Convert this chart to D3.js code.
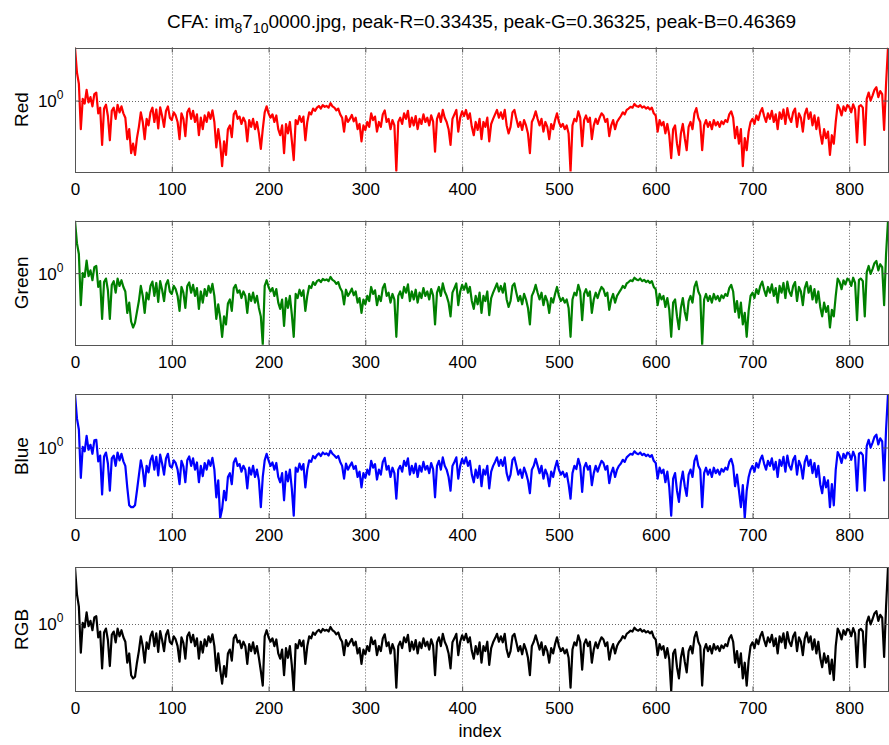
<!DOCTYPE html>
<html>
<head>
<meta charset="utf-8">
<script src="https://cdn.jsdelivr.net/npm/d3@7"></script>
<style>
  body { margin: 0; background: #fff; }
  svg { display: block; font-family: "Liberation Sans", Arial, Helvetica, sans-serif; }
</style>
</head>
<body>
<svg id="chart" width="889" height="745"></svg>
<script>
// Sample spacing along the index axis (one value every 2 indices, 0..840)
const indexStep = 2;

// Spectrum magnitude per channel; each row holds 20 samples (40 indices)
const red = [
  4.4,2.2,1.6,0.45,1.05,0.92,1.35,0.95,1.1,0.85,1.2,1.25,0.7,0.82,0.29,0.8,0.89,0.65,0.33,0.75,
  0.82,0.6,0.89,0.72,0.85,0.7,0.62,0.34,0.45,0.23,0.3,0.22,0.35,0.48,0.72,0.55,0.34,0.6,0.5,0.72,
  0.82,0.55,0.78,0.46,0.83,0.65,0.48,0.75,0.85,0.62,0.58,0.72,0.66,0.55,0.34,0.7,0.6,0.37,0.72,0.8,
  0.6,0.75,0.55,0.68,0.38,0.62,0.45,0.66,0.55,0.72,0.6,0.76,0.55,0.27,0.45,0.3,0.16,0.32,0.22,0.45,
  0.5,0.36,0.68,0.75,0.6,0.64,0.52,0.62,0.55,0.32,0.58,0.48,0.6,0.45,0.55,0.4,0.26,0.45,0.72,0.85,
  0.7,0.62,0.68,0.55,0.66,0.45,0.38,0.5,0.23,0.52,0.4,0.55,0.33,0.19,0.58,0.52,0.65,0.55,0.64,0.33,
  0.55,0.72,0.68,0.8,0.75,0.82,0.86,0.8,0.88,0.84,0.86,0.82,0.93,0.85,0.82,0.76,0.8,0.68,0.62,0.42,
  0.65,0.55,0.6,0.67,0.56,0.62,0.45,0.52,0.32,0.5,0.44,0.55,0.48,0.7,0.58,0.64,0.42,0.55,0.48,0.68,
  0.76,0.55,0.6,0.45,0.58,0.5,0.14,0.55,0.62,0.52,0.7,0.6,0.75,0.48,0.62,0.5,0.65,0.45,0.6,0.52,
  0.68,0.55,0.62,0.5,0.66,0.56,0.24,0.6,0.7,0.55,0.77,0.62,0.55,0.45,0.29,0.6,0.68,0.77,0.42,0.62,
  0.74,0.65,0.77,0.6,0.7,0.48,0.38,0.55,0.44,0.6,0.34,0.55,0.48,0.62,0.32,0.52,0.6,0.68,0.77,0.62,
  0.72,0.6,0.77,0.5,0.4,0.48,0.72,0.77,0.6,0.48,0.55,0.44,0.58,0.5,0.4,0.23,0.55,0.62,0.74,0.6,
  0.5,0.6,0.42,0.55,0.48,0.34,0.52,0.45,0.58,0.7,0.55,0.48,0.52,0.45,0.5,0.4,0.138,0.5,0.6,0.56,
  0.74,0.62,0.28,0.58,0.66,0.55,0.62,0.34,0.5,0.6,0.52,0.62,0.7,0.66,0.55,0.6,0.37,0.5,0.58,0.45,
  0.55,0.6,0.65,0.72,0.68,0.77,0.8,0.84,0.82,0.91,0.86,0.84,0.88,0.82,0.85,0.8,0.83,0.78,0.82,0.7,
  0.66,0.42,0.58,0.5,0.55,0.4,0.52,0.38,0.2,0.45,0.5,0.3,0.22,0.4,0.52,0.35,0.25,0.48,0.55,0.45,
  0.7,0.81,0.62,0.55,0.25,0.5,0.58,0.48,0.55,0.45,0.58,0.5,0.55,0.48,0.56,0.52,0.58,0.55,0.68,0.74,
  0.62,0.35,0.48,0.3,0.45,0.16,0.35,0.25,0.42,0.55,0.6,0.52,0.66,0.58,0.72,0.81,0.65,0.55,0.7,0.6,
  0.75,0.55,0.68,0.45,0.72,0.6,0.78,0.52,0.81,0.62,0.55,0.72,0.8,0.48,0.7,0.62,0.42,0.68,0.8,0.6,
  0.72,0.5,0.66,0.45,0.62,0.4,0.3,0.45,0.35,0.42,0.22,0.38,0.3,0.55,0.89,0.8,0.66,0.85,0.75,0.88,
  0.84,0.72,0.9,0.78,0.31,0.85,0.88,0.82,0.29,1.05,1.25,1.0,1.15,1.35,1.45,1.1,1.3,1.2,0.44,1.6,
  4.4
];

const green = [
  4.29,2.3,1.7,0.41,1.0,0.9,1.42,0.92,1.08,0.82,1.18,1.22,0.68,0.8,0.28,0.78,0.86,0.62,0.28,0.72,
  0.8,0.58,0.86,0.7,0.82,0.68,0.6,0.33,0.44,0.26,0.22,0.25,0.34,0.46,0.7,0.53,0.33,0.58,0.48,0.7,
  0.79,0.53,0.76,0.45,0.8,0.63,0.46,0.73,0.82,0.6,0.56,0.7,0.64,0.53,0.35,0.68,0.58,0.38,0.7,0.77,
  0.58,0.72,0.53,0.66,0.37,0.6,0.44,0.64,0.53,0.7,0.58,0.74,0.53,0.28,0.42,0.29,0.17,0.3,0.24,0.43,
  0.48,0.35,0.66,0.72,0.58,0.62,0.5,0.6,0.53,0.33,0.56,0.46,0.58,0.44,0.53,0.38,0.3,0.137,0.7,0.82,
  0.68,0.6,0.66,0.53,0.64,0.44,0.37,0.48,0.23,0.5,0.38,0.53,0.32,0.17,0.56,0.5,0.63,0.53,0.62,0.35,
  0.53,0.7,0.66,0.78,0.72,0.8,0.83,0.78,0.85,0.82,0.84,0.8,0.9,0.83,0.8,0.74,0.78,0.66,0.6,0.42,
  0.63,0.53,0.58,0.65,0.54,0.6,0.44,0.5,0.33,0.48,0.42,0.53,0.46,0.68,0.56,0.62,0.41,0.53,0.46,0.66,
  0.74,0.53,0.58,0.44,0.56,0.48,0.17,0.53,0.6,0.5,0.68,0.58,0.73,0.46,0.6,0.48,0.63,0.44,0.58,0.5,
  0.66,0.53,0.6,0.48,0.64,0.54,0.24,0.58,0.68,0.53,0.75,0.6,0.53,0.44,0.3,0.58,0.66,0.75,0.41,0.6,
  0.72,0.63,0.75,0.58,0.68,0.46,0.37,0.53,0.42,0.58,0.33,0.53,0.46,0.6,0.31,0.5,0.58,0.66,0.75,0.6,
  0.7,0.58,0.75,0.48,0.39,0.46,0.7,0.75,0.58,0.46,0.53,0.42,0.56,0.48,0.38,0.24,0.53,0.6,0.72,0.58,
  0.48,0.58,0.41,0.53,0.46,0.33,0.5,0.44,0.56,0.68,0.53,0.46,0.5,0.44,0.48,0.38,0.17,0.48,0.58,0.54,
  0.72,0.6,0.27,0.56,0.64,0.53,0.6,0.33,0.48,0.58,0.5,0.6,0.68,0.64,0.53,0.58,0.36,0.48,0.56,0.44,
  0.53,0.58,0.63,0.7,0.66,0.75,0.78,0.82,0.8,0.88,0.84,0.82,0.86,0.8,0.83,0.78,0.81,0.76,0.8,0.68,
  0.64,0.41,0.56,0.48,0.53,0.39,0.5,0.36,0.17,0.44,0.48,0.3,0.21,0.38,0.5,0.34,0.27,0.46,0.53,0.44,
  0.68,0.79,0.6,0.53,0.136,0.48,0.56,0.46,0.53,0.44,0.56,0.48,0.53,0.46,0.54,0.5,0.56,0.53,0.66,0.72,
  0.6,0.34,0.46,0.29,0.44,0.24,0.33,0.17,0.35,0.53,0.58,0.5,0.64,0.56,0.7,0.79,0.63,0.53,0.68,0.58,
  0.73,0.53,0.66,0.44,0.7,0.58,0.76,0.5,0.79,0.6,0.53,0.7,0.78,0.46,0.68,0.6,0.41,0.66,0.78,0.58,
  0.7,0.48,0.64,0.44,0.6,0.39,0.3,0.44,0.34,0.4,0.22,0.36,0.3,0.53,0.86,0.78,0.64,0.82,0.73,0.86,
  0.82,0.7,0.88,0.76,0.27,0.83,0.86,0.8,0.3,1.02,1.22,0.98,1.12,1.32,1.4,1.08,1.28,1.18,0.41,1.7,
  4.29
];

const blue = [
  4.43,2.25,1.65,0.43,1.02,0.9,1.38,0.94,1.08,0.84,1.22,1.24,0.68,0.8,0.27,0.78,0.87,0.64,0.3,0.74,
  0.8,0.6,0.87,0.7,0.84,0.68,0.6,0.33,0.2,0.19,0.19,0.2,0.3,0.46,0.7,0.54,0.34,0.6,0.5,0.7,
  0.8,0.54,0.77,0.46,0.82,0.64,0.47,0.74,0.84,0.6,0.57,0.7,0.65,0.54,0.36,0.69,0.59,0.38,0.7,0.78,
  0.6,0.74,0.54,0.66,0.38,0.6,0.45,0.65,0.54,0.7,0.6,0.75,0.54,0.25,0.4,0.14,0.18,0.3,0.23,0.44,
  0.49,0.36,0.66,0.74,0.6,0.63,0.51,0.6,0.54,0.32,0.57,0.47,0.6,0.44,0.54,0.4,0.19,0.44,0.7,0.84,
  0.7,0.6,0.66,0.54,0.65,0.44,0.38,0.49,0.23,0.51,0.39,0.54,0.32,0.15,0.57,0.51,0.64,0.54,0.63,0.33,
  0.54,0.7,0.67,0.79,0.74,0.81,0.85,0.79,0.87,0.83,0.85,0.8,0.92,0.84,0.8,0.75,0.79,0.67,0.6,0.42,
  0.64,0.54,0.6,0.66,0.55,0.6,0.44,0.51,0.33,0.49,0.43,0.54,0.47,0.69,0.57,0.63,0.41,0.54,0.47,0.67,
  0.75,0.54,0.6,0.44,0.57,0.49,0.24,0.54,0.6,0.51,0.69,0.6,0.74,0.47,0.6,0.49,0.64,0.44,0.6,0.51,
  0.67,0.54,0.6,0.49,0.65,0.55,0.25,0.6,0.69,0.54,0.76,0.6,0.54,0.44,0.3,0.6,0.67,0.76,0.42,0.6,
  0.73,0.64,0.76,0.6,0.69,0.47,0.38,0.54,0.43,0.6,0.34,0.54,0.47,0.6,0.32,0.51,0.6,0.67,0.76,0.6,
  0.71,0.6,0.76,0.49,0.4,0.47,0.71,0.76,0.6,0.47,0.54,0.43,0.57,0.49,0.4,0.28,0.54,0.6,0.73,0.6,
  0.49,0.6,0.42,0.54,0.47,0.34,0.51,0.44,0.57,0.69,0.54,0.47,0.51,0.44,0.49,0.36,0.24,0.49,0.6,0.55,
  0.73,0.6,0.29,0.57,0.65,0.54,0.6,0.35,0.49,0.6,0.51,0.6,0.69,0.65,0.54,0.6,0.37,0.49,0.57,0.44,
  0.54,0.6,0.64,0.71,0.67,0.76,0.8,0.84,0.82,0.9,0.85,0.83,0.87,0.81,0.84,0.79,0.82,0.77,0.81,0.69,
  0.65,0.42,0.57,0.49,0.54,0.38,0.51,0.33,0.15,0.42,0.49,0.3,0.22,0.38,0.51,0.34,0.26,0.47,0.54,0.44,
  0.69,0.8,0.6,0.54,0.19,0.49,0.57,0.47,0.54,0.44,0.57,0.49,0.54,0.47,0.55,0.51,0.57,0.54,0.67,0.73,
  0.6,0.34,0.47,0.3,0.19,0.35,0.14,0.3,0.44,0.54,0.6,0.51,0.65,0.57,0.71,0.8,0.64,0.54,0.69,0.6,
  0.74,0.54,0.67,0.44,0.71,0.6,0.77,0.51,0.8,0.6,0.54,0.71,0.79,0.47,0.69,0.6,0.42,0.67,0.79,0.6,
  0.71,0.49,0.65,0.44,0.6,0.36,0.28,0.44,0.33,0.4,0.19,0.36,0.2,0.54,0.88,0.79,0.65,0.84,0.74,0.87,
  0.84,0.71,0.89,0.77,0.3,0.84,0.87,0.81,0.3,1.04,1.24,1.0,1.14,1.34,1.43,1.09,1.29,1.19,0.4,1.65,
  4.43
];

const rgb = [
  4.83,2.3,1.62,0.45,1.03,0.91,1.38,0.94,1.09,0.84,1.2,1.24,0.69,0.81,0.29,0.79,0.88,0.64,0.31,0.74,
  0.81,0.6,0.88,0.71,0.84,0.69,0.61,0.34,0.44,0.24,0.22,0.23,0.34,0.47,0.71,0.54,0.34,0.6,0.5,0.71,
  0.81,0.54,0.77,0.46,0.82,0.64,0.47,0.74,0.84,0.61,0.57,0.71,0.65,0.54,0.35,0.69,0.59,0.38,0.71,0.79,
  0.6,0.74,0.54,0.67,0.38,0.61,0.45,0.65,0.54,0.71,0.6,0.75,0.54,0.27,0.44,0.28,0.19,0.31,0.23,0.44,
  0.49,0.36,0.67,0.74,0.6,0.63,0.51,0.61,0.54,0.33,0.57,0.47,0.6,0.44,0.54,0.39,0.27,0.18,0.71,0.84,
  0.69,0.61,0.67,0.54,0.65,0.44,0.38,0.49,0.24,0.51,0.39,0.54,0.32,0.153,0.57,0.51,0.64,0.54,0.63,0.33,
  0.54,0.71,0.67,0.79,0.74,0.81,0.85,0.79,0.87,0.83,0.85,0.81,0.92,0.84,0.81,0.75,0.79,0.67,0.61,0.42,
  0.64,0.54,0.6,0.66,0.55,0.61,0.44,0.51,0.33,0.49,0.43,0.54,0.47,0.69,0.57,0.63,0.42,0.54,0.47,0.67,
  0.75,0.54,0.6,0.44,0.57,0.49,0.17,0.54,0.61,0.51,0.69,0.6,0.74,0.47,0.61,0.49,0.64,0.44,0.6,0.51,
  0.67,0.54,0.61,0.49,0.65,0.55,0.24,0.6,0.69,0.54,0.76,0.61,0.54,0.44,0.29,0.6,0.67,0.76,0.42,0.61,
  0.73,0.64,0.76,0.6,0.69,0.47,0.38,0.54,0.43,0.6,0.34,0.54,0.47,0.61,0.32,0.51,0.6,0.67,0.76,0.61,
  0.71,0.6,0.76,0.49,0.4,0.47,0.71,0.76,0.6,0.47,0.54,0.43,0.57,0.49,0.39,0.24,0.54,0.61,0.73,0.6,
  0.49,0.6,0.42,0.54,0.47,0.34,0.51,0.44,0.57,0.69,0.54,0.47,0.51,0.44,0.49,0.39,0.17,0.49,0.6,0.55,
  0.73,0.61,0.28,0.57,0.65,0.54,0.61,0.34,0.49,0.6,0.51,0.61,0.69,0.65,0.54,0.6,0.37,0.49,0.57,0.44,
  0.54,0.6,0.64,0.71,0.67,0.76,0.79,0.83,0.81,0.9,0.85,0.83,0.87,0.81,0.84,0.79,0.82,0.77,0.81,0.69,
  0.65,0.42,0.57,0.49,0.54,0.39,0.51,0.37,0.154,0.44,0.49,0.3,0.22,0.39,0.51,0.35,0.26,0.47,0.54,0.44,
  0.69,0.8,0.61,0.54,0.18,0.49,0.57,0.47,0.54,0.44,0.57,0.49,0.54,0.47,0.55,0.51,0.57,0.54,0.67,0.73,
  0.61,0.34,0.47,0.3,0.44,0.22,0.34,0.18,0.36,0.54,0.6,0.51,0.65,0.57,0.71,0.8,0.64,0.54,0.69,0.6,
  0.74,0.54,0.67,0.44,0.71,0.6,0.77,0.51,0.8,0.61,0.54,0.71,0.79,0.47,0.69,0.61,0.42,0.67,0.79,0.6,
  0.71,0.49,0.65,0.44,0.61,0.39,0.3,0.44,0.34,0.41,0.25,0.37,0.21,0.54,0.88,0.79,0.65,0.84,0.74,0.87,
  0.84,0.71,0.89,0.77,0.3,0.84,0.87,0.81,0.3,1.04,1.23,0.99,1.14,1.34,1.43,1.09,1.29,1.19,0.4,1.62,
  4.83
];

const channelNames = ["Red", "Green", "Blue", "RGB"];
const channelColors = ["#ff0000", "#008000", "#0000ff", "#000000"];
const channelValues = [red, green, blue, rgb];
const xTickValues = [0, 100, 200, 300, 400, 500, 600, 700, 800];
const yTickValues = [1];
const xLabel = "index";

// Layout
const svg = d3.select("#chart");
const left = 75, right = 888;
const panelTop0 = 47.5, panelStep = 173.3, panelH = 124;
const frameColor = "#555";
const gridColor = "#666";

const x = d3.scaleLinear().domain([0, 840]).range([left, right]);

// Title with subscripted file name
const title = svg.append("text")
  .attr("x", (left + right) / 2)
  .attr("y", 28)
  .attr("text-anchor", "middle")
  .attr("font-size", 19)
  .attr("fill", "#000");
title.append("tspan").text("CFA: im");
title.append("tspan").attr("font-size", 14).attr("dy", 5).text("8");
title.append("tspan").attr("dy", -5).text("7");
title.append("tspan").attr("font-size", 14).attr("dy", 5).text("10");
title.append("tspan").attr("dy", -5).text("0000.jpg, peak-R=0.33435, peak-G=0.36325, peak-B=0.46369");

channelNames.forEach((name, k) => {
  const values = channelValues[k];
  const top = panelTop0 + k * panelStep;
  const bottom = top + panelH;
  const y = d3.scaleLog().domain(d3.extent(values)).range([bottom, top]);

  const g = svg.append("g");
  const clipId = "clip" + k;
  svg.append("clipPath").attr("id", clipId)
    .append("rect").attr("x", left).attr("y", top).attr("width", right - left).attr("height", panelH);

  // dotted grid
  g.append("g").selectAll("line").data(xTickValues.filter(v => v > 0)).join("line")
    .attr("x1", d => Math.round(x(d)) + 0.5).attr("x2", d => Math.round(x(d)) + 0.5)
    .attr("y1", top).attr("y2", bottom)
    .attr("stroke", gridColor).attr("stroke-width", 1).attr("stroke-dasharray", "1,2");
  g.append("g").selectAll("line").data(yTickValues).join("line")
    .attr("x1", left).attr("x2", right)
    .attr("y1", d => Math.round(y(d)) + 0.5).attr("y2", d => Math.round(y(d)) + 0.5)
    .attr("stroke", gridColor).attr("stroke-width", 1).attr("stroke-dasharray", "1,2");

  // data line
  const line = d3.line()
    .x((d, i) => x(i * indexStep))
    .y(d => y(d));
  g.append("path")
    .datum(values)
    .attr("clip-path", `url(#${clipId})`)
    .attr("d", line)
    .attr("fill", "none")
    .attr("stroke", channelColors[k])
    .attr("stroke-width", 2.2)
    .attr("stroke-linejoin", "round");

  // bottom axis with inward ticks and labels
  const xb = g.append("g").attr("transform", `translate(0,${bottom})`)
    .call(d3.axisBottom(x).tickValues(xTickValues).tickSizeInner(-5).tickSizeOuter(0).tickPadding(11));
  xb.select(".domain").remove();
  xb.selectAll(".tick line").attr("stroke", frameColor);
  xb.selectAll("text").attr("font-size", 17).attr("fill", "#000");

  // top axis: ticks only
  const xt = g.append("g").attr("transform", `translate(0,${top})`)
    .call(d3.axisTop(x).tickValues(xTickValues).tickSizeInner(-5).tickSizeOuter(0).tickFormat(""));
  xt.select(".domain").remove();
  xt.selectAll(".tick line").attr("stroke", frameColor);

  // left axis: 10^0 tick with superscripted label
  const yl = g.append("g").attr("transform", `translate(${left},0)`)
    .call(d3.axisLeft(y).tickValues(yTickValues).tickSizeInner(-5).tickSizeOuter(0).tickFormat(""));
  yl.select(".domain").remove();
  yl.selectAll(".tick line").attr("stroke", frameColor);
  yl.selectAll(".tick").each(function(d) {
    const t = d3.select(this).append("text")
      .attr("x", -11.5).attr("y", 0).attr("dy", 6)
      .attr("text-anchor", "end").attr("fill", "#000").attr("font-size", 17);
    t.append("tspan").text("10");
    t.append("tspan").attr("font-size", 12).attr("dy", -8).text(Math.round(Math.log10(d)));
  });

  // right axis ticks
  const yr = g.append("g").attr("transform", `translate(${right},0)`)
    .call(d3.axisRight(y).tickValues(yTickValues).tickSizeInner(-5).tickSizeOuter(0).tickFormat(""));
  yr.select(".domain").remove();
  yr.selectAll(".tick line").attr("stroke", frameColor);

  // frame
  g.append("rect")
    .attr("x", left + 0.5).attr("y", Math.round(top) + 0.5)
    .attr("width", right - left).attr("height", Math.round(panelH))
    .attr("fill", "none").attr("stroke", frameColor).attr("stroke-width", 1);

  // channel label
  g.append("text")
    .attr("transform", `translate(28,${(top + bottom) / 2}) rotate(-90)`)
    .attr("text-anchor", "middle")
    .attr("font-size", 19).attr("fill", "#000")
    .text(name);
});

// shared x label
svg.append("text")
  .attr("x", 480)
  .attr("y", 737)
  .attr("text-anchor", "middle")
  .attr("font-size", 18).attr("fill", "#000")
  .text(xLabel);
</script>
</body>
</html>
